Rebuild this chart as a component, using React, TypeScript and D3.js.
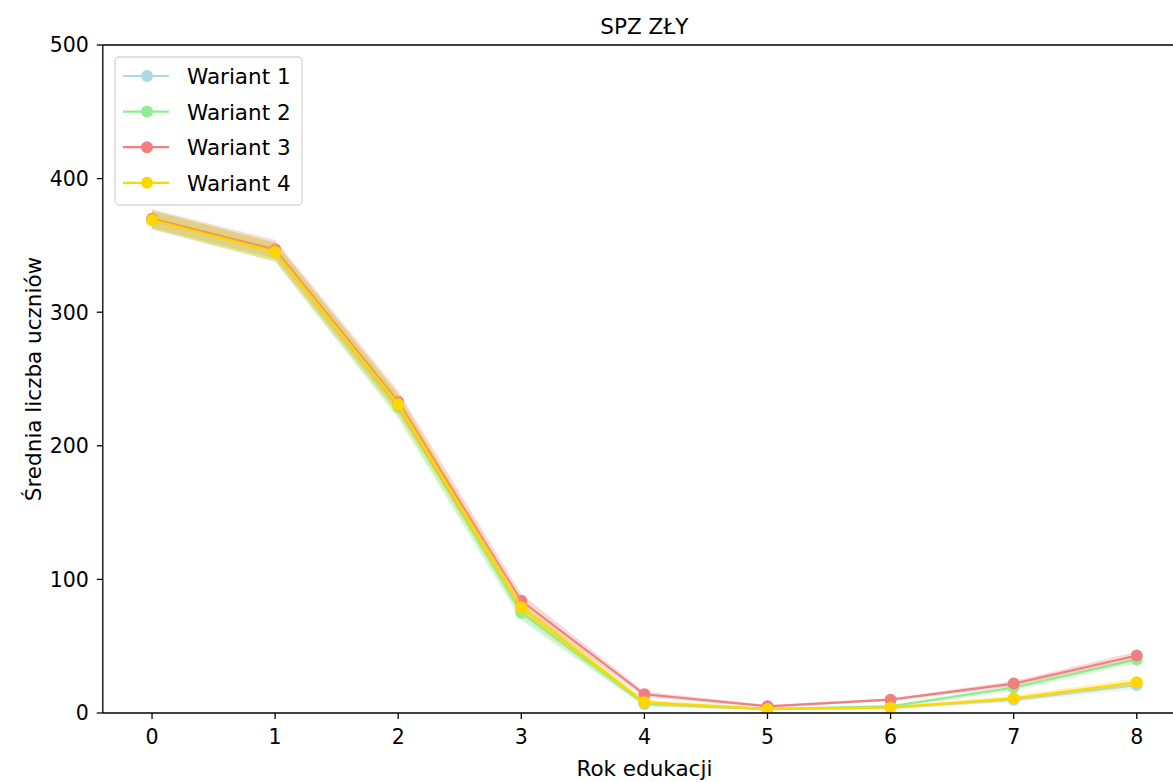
import React from 'react';
import * as d3 from 'd3';

// rok edukacji 0..8
const years = [0, 1, 2, 3, 4, 5, 6, 7, 8];
const seriesNames = ['Wariant 1', 'Wariant 2', 'Wariant 3', 'Wariant 4'];
const colors = ['#add8e6', '#90ee90', '#f08080', '#ffd700'];

const wariant1 = [369, 345, 230, 76, 7, 3, 4, 10, 21];
const wariant2 = [369, 345, 229, 75, 7, 3, 5, 19, 40];
const wariant3 = [370, 347, 233, 84, 14, 5, 10, 22, 43];
const wariant4 = [369, 345, 231, 79, 8, 3, 4, 11, 23];

// rozrzut (przedzial ufnosci) wokol sredniej
const err1 = [7, 7, 8, 5, 2, 1, 1, 2, 3];
const err2 = [7, 7, 9, 6, 2, 1, 1, 2, 3];
const err3 = [7, 7, 8, 5, 2, 1, 1, 2, 3];
const err4 = [7, 7, 8, 5, 2, 1, 1, 2, 3];

const yTicks = [0, 100, 200, 300, 400, 500];

const values = [wariant1, wariant2, wariant3, wariant4];
const errors = [err1, err2, err3, err4];

const width = 1173;
const height = 782;
const margin = { left: 102.8, top: 45, right: 1186, bottom: 713 };
const font = 'DejaVu Sans, sans-serif';

const xScale = d3.scaleLinear().domain([-0.4, 8.4]).range([margin.left, margin.right]);
const yScale = d3.scaleLinear().domain([0, 500]).range([margin.bottom, margin.top]);

const line = d3.line<number>()
  .x((d, i) => xScale(years[i]))
  .y((d) => yScale(d));

const band = (vals: number[], errs: number[]) =>
  d3.area<number>()
    .x((d, i) => xScale(years[i]))
    .y0((d, i) => yScale(d - errs[i]))
    .y1((d, i) => yScale(d + errs[i]))(vals);

export default function App() {
  return (
    <svg width={width} height={height}
      style={{ position: 'absolute', left: 0, top: 0, background: '#fff' }}
      fontFamily={font}>
      <rect width={width} height={height} fill="#fff" />
      <defs>
        <clipPath id="plot">
          <rect x={margin.left} y={margin.top} width={margin.right - margin.left} height={margin.bottom - margin.top} />
        </clipPath>
      </defs>

      <g clipPath="url(#plot)">
        {values.map((vals, s) => (
          <g key={seriesNames[s]}>
            <path d={band(vals, errors[s]) || ''} fill={colors[s]} fillOpacity={0.3} stroke="none" />
            <path d={line(vals) || ''} fill="none" stroke={colors[s]} strokeWidth={2.2} />
            {vals.map((v, i) => (
              <circle key={i} cx={xScale(years[i])} cy={yScale(v)} r={6} fill={colors[s]} />
            ))}
          </g>
        ))}
      </g>

      {/* spines */}
      <line x1={margin.left} x2={margin.left} y1={margin.top} y2={margin.bottom} stroke="#000" strokeWidth={1.3} />
      <line x1={margin.left} x2={margin.right} y1={margin.bottom} y2={margin.bottom} stroke="#000" strokeWidth={1.3} />
      <line x1={margin.left} x2={margin.right} y1={margin.top} y2={margin.top} stroke="#000" strokeWidth={1.3} />
      <line x1={margin.right} x2={margin.right} y1={margin.top} y2={margin.bottom} stroke="#000" strokeWidth={1.3} />

      {/* x axis */}
      {years.map((t) => (
        <g key={t} transform={`translate(${xScale(t)},${margin.bottom})`}>
          <line y1={0} y2={6} stroke="#000" strokeWidth={1.3} />
          <text y={31} textAnchor="middle" fontSize={20.5} fill="#000">{t}</text>
        </g>
      ))}
      {/* y axis */}
      {yTicks.map((t) => (
        <g key={t} transform={`translate(${margin.left},${yScale(t)})`}>
          <line x1={0} x2={-6} stroke="#000" strokeWidth={1.3} />
          <text x={-14} dy="0.36em" textAnchor="end" fontSize={20.5} fill="#000">{t}</text>
        </g>
      ))}

      <text x={(margin.left + margin.right) / 2} y={776} textAnchor="middle" fontSize={21.5} fill="#000">Rok edukacji</text>
      <text transform={`translate(41,${(margin.top + margin.bottom) / 2}) rotate(-90)`} textAnchor="middle" fontSize={21.5} fill="#000">Średnia liczba uczniów</text>
      <text x={(margin.left + margin.right) / 2} y={34} textAnchor="middle" fontSize={21.5} fill="#000">SPZ ZŁY</text>

      {/* legend */}
      <g>
        <rect x={115} y={57} width={187} height={148} rx={4} fill="#fff" fillOpacity={0.8} stroke="#d6d6d6" strokeWidth={1.3} />
        {seriesNames.map((name, i) => {
          const cy = 76 + i * 35.6;
          return (
            <g key={name}>
              <line x1={123} x2={169} y1={cy} y2={cy} stroke={colors[i]} strokeWidth={2.2} />
              <circle cx={147} cy={cy} r={6} fill={colors[i]} />
              <text x={187} y={cy + 8} fontSize={21.5} fill="#000">{name}</text>
            </g>
          );
        })}
      </g>
    </svg>
  );
}
